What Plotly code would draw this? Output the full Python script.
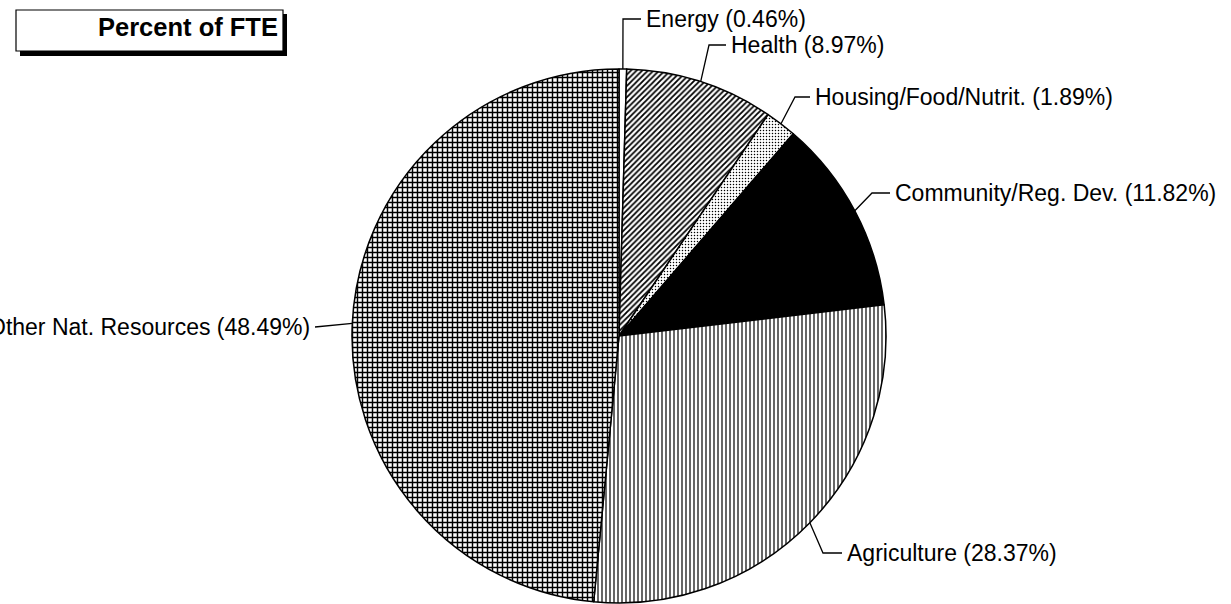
import plotly.graph_objects as go
import math

# ---- data ----
categories = ["Energy", "Health", "Housing/Food/Nutrit.", "Community/Reg. Dev.",
              "Agriculture", "Other Nat. Resources"]
percent_fte = [0.46, 8.97, 1.89, 11.82, 28.37, 48.49]
title_text = "Percent of FTE"

# ---- styling / layout ----
W, H = 1231, 604
cx, cy, R = 619, 336, 267
pattern_shapes = ["", "/", ".", "", "|", "+"]
pattern_sizes = [4, 4, 3, 4, 4, 5]
pattern_solid = [0.2, 0.45, 0.2, 0.2, 0.3, 0.5]
slice_colors = ["white", "white", "white", "black", "white", "white"]
# elbow point and end of leader line (px), text side
leader_layout = [
    ((623, 19), (641, 19), "left"),
    ((709, 45), (726, 45), "left"),
    ((795, 97), (810, 97), "left"),
    ((872, 193), (890, 193), "left"),
    ((823, 553), (842, 553), "left"),
    ((315, 327), (315, 327), "right"),
]
FONT = "Liberation Sans, Arial, sans-serif"


def px(x):
    return x / W


def py(y):
    return 1 - y / H


fig = go.Figure()
fig.add_trace(go.Pie(
    labels=categories,
    values=percent_fte,
    sort=False,
    direction="clockwise",
    rotation=0,
    textinfo="none",
    hoverinfo="label+percent",
    showlegend=False,
    marker=dict(
        colors=slice_colors,
        line=dict(color="black", width=1.5),
        pattern=dict(shape=pattern_shapes, size=pattern_sizes,
                     solidity=pattern_solid, fgcolor="black",
                     bgcolor=slice_colors, fillmode="replace"),
    ),
    domain=dict(x=[px(cx - R), px(cx + R)], y=[py(cy + R), py(cy - R)]),
))

total = sum(percent_fte)
shapes = []
annotations = []
cum = 0.0
for cat, v, (elbow, end, side) in zip(categories, percent_fte, leader_layout):
    mid = (cum + v / 2) / total * 2 * math.pi
    cum += v
    ax = cx + R * math.sin(mid)
    ay = cy - R * math.cos(mid)
    shapes.append(dict(type="path", xref="paper", yref="paper",
                       path=f"M {px(ax)} {py(ay)} L {px(elbow[0])} {py(elbow[1])} L {px(end[0])} {py(end[1])}",
                       line=dict(color="black", width=1.3)))
    if side == "left":
        tx, xa = end[0] + 3, "left"
    else:
        tx, xa = end[0] - 3, "right"
    annotations.append(dict(xref="paper", yref="paper", x=px(tx), y=py(end[1]),
                            xanchor=xa, yanchor="middle", showarrow=False,
                            text=f"{cat} ({v:.2f}%)",
                            font=dict(family=FONT, size=23, color="black")))

# title box with shadow
shapes.insert(0, dict(type="rect", xref="paper", yref="paper",
                      x0=px(20), x1=px(287), y0=py(56), y1=py(14),
                      fillcolor="black", line=dict(width=0)))
shapes.insert(1, dict(type="rect", xref="paper", yref="paper",
                      x0=px(16), x1=px(283), y0=py(51), y1=py(10),
                      fillcolor="white", line=dict(color="black", width=1.2)))
annotations.append(dict(xref="paper", yref="paper", x=px(188), y=py(27),
                        xanchor="center", yanchor="middle", showarrow=False,
                        text=f"<b>{title_text}</b>",
                        font=dict(family=FONT, size=25.5, color="black")))

fig.update_layout(
    width=W, height=H,
    margin=dict(l=0, r=0, t=0, b=0),
    paper_bgcolor="white", plot_bgcolor="white",
    shapes=shapes, annotations=annotations,
)
fig.write_html("out.html", config={"displayModeBar": False},
               post_script="document.body.style.margin='0';document.body.style.overflow='hidden';")
